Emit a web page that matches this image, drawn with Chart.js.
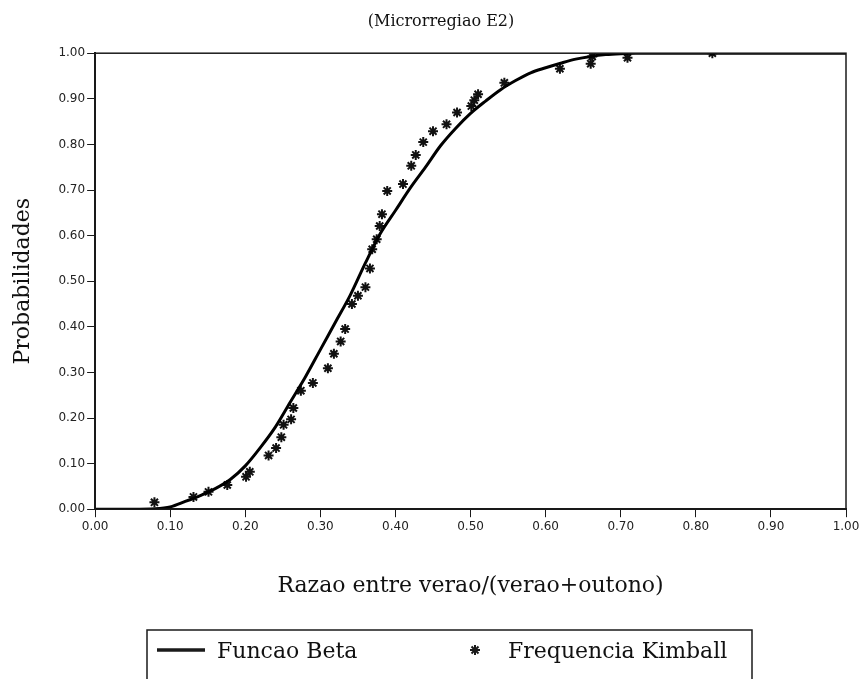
<!DOCTYPE html>
<html>
<head>
<meta charset="utf-8">
<title>Microrregiao E2</title>
<script src="https://cdn.jsdelivr.net/npm/chart.js@4.4.1/dist/chart.umd.min.js"></script>
<style>
  body { margin: 0; background: #fff; }
  #wrap { width: 863px; height: 679px; }
</style>
</head>
<body>
<div id="wrap"><canvas id="myChart" width="863" height="679"></canvas></div>
<script>
// curva da funcao beta
var betaX = [0.00, 0.05, 0.08, 0.10, 0.12, 0.14, 0.16, 0.18, 0.20, 0.22, 0.24, 0.26, 0.28, 0.30,
             0.32, 0.34, 0.36, 0.38, 0.40, 0.42, 0.44, 0.46, 0.48, 0.50, 0.52, 0.54, 0.56, 0.58,
             0.60, 0.62, 0.64, 0.66, 0.68, 0.70, 0.72, 0.80, 0.90, 1.00];
var betaY = [0.000, 0.000, 0.001, 0.005, 0.017, 0.030, 0.045, 0.065, 0.095, 0.135, 0.180, 0.235, 0.290, 0.350,
             0.410, 0.470, 0.540, 0.605, 0.655, 0.705, 0.750, 0.797, 0.835, 0.868, 0.895, 0.920, 0.940, 0.957,
             0.968, 0.978, 0.987, 0.993, 0.997, 0.999, 1.000, 1.000, 1.000, 1.000];

// frequencia de Kimball
var kimballX = [0.079, 0.131, 0.151, 0.176, 0.201, 0.206, 0.231, 0.241, 0.248, 0.251, 0.261, 0.264,
                0.274, 0.290, 0.310, 0.318, 0.327, 0.333, 0.342, 0.350, 0.360, 0.366, 0.369, 0.375,
                0.379, 0.382, 0.389, 0.410, 0.421, 0.427, 0.437, 0.450, 0.468, 0.482, 0.501, 0.505,
                0.510, 0.545, 0.619, 0.660, 0.662, 0.709, 0.822];
var kimballY = [0.015, 0.027, 0.038, 0.053, 0.071, 0.082, 0.118, 0.134, 0.158, 0.185, 0.197, 0.222,
                0.260, 0.277, 0.309, 0.341, 0.368, 0.395, 0.450, 0.468, 0.487, 0.528, 0.570, 0.592,
                0.621, 0.647, 0.698, 0.713, 0.753, 0.777, 0.805, 0.829, 0.844, 0.870, 0.884, 0.897,
                0.910, 0.935, 0.966, 0.977, 0.993, 0.990, 1.000];

var titulo = "(Microrregiao E2)";
var tituloX = "Razao entre verao/(verao+outono)";
var tituloY = "Probabilidades";
var nomes = ["Funcao Beta", "Frequencia Kimball"];

var serif = "'DejaVu Serif', 'Liberation Serif', serif";

function pares(xs, ys) {
    return xs.map(function(x, i) { return {x: x, y: ys[i]}; });
}

// moldura do grafico (topo e direita)
var moldura = {
    id: 'moldura',
    afterDatasetsDraw: function(chart) {
        var a = chart.chartArea;
        var ctx = chart.ctx;
        ctx.save();
        ctx.strokeStyle = '#1a1a1a';
        ctx.lineWidth = 1.5;
        ctx.strokeRect(a.left, a.top, a.right - a.left, a.bottom - a.top);
        ctx.restore();
    }
};

// legenda com caixa, desenhada a mao
var legenda = {
    id: 'legenda',
    afterDraw: function(chart) {
        var ctx = chart.ctx;
        var y = 650;
        ctx.save();
        ctx.strokeStyle = '#1a1a1a';
        ctx.lineWidth = 1.5;
        ctx.strokeRect(147, 630, 605, 60);

        ctx.lineWidth = 3.5;
        ctx.beginPath();
        ctx.moveTo(157, y);
        ctx.lineTo(205, y);
        ctx.stroke();

        ctx.lineWidth = 2;
        var r = 5, cx = 475;
        ctx.beginPath();
        ctx.moveTo(cx - r, y); ctx.lineTo(cx + r, y);
        ctx.moveTo(cx, y - r); ctx.lineTo(cx, y + r);
        ctx.moveTo(cx - r * 0.7, y - r * 0.7); ctx.lineTo(cx + r * 0.7, y + r * 0.7);
        ctx.moveTo(cx - r * 0.7, y + r * 0.7); ctx.lineTo(cx + r * 0.7, y - r * 0.7);
        ctx.stroke();

        ctx.fillStyle = '#111';
        ctx.font = "22px " + serif;
        ctx.textBaseline = 'middle';
        ctx.fillText(chart.data.datasets[0].label, 217, y + 2);
        ctx.fillText(chart.data.datasets[1].label, 508, y + 2);
        ctx.restore();
    }
};

var ctx = document.getElementById('myChart');

var myChart = new Chart(ctx, {
    type: 'scatter',
    data: {
        datasets: [{
            label: nomes[0],
            data: pares(betaX, betaY),
            showLine: true,
            borderColor: '#000',
            borderWidth: 3,
            pointRadius: 0,
            cubicInterpolationMode: 'monotone'
        }, {
            label: nomes[1],
            data: pares(kimballX, kimballY),
            showLine: false,
            pointStyle: 'star',
            pointRadius: 5,
            borderColor: '#111',
            backgroundColor: '#111',
            pointBorderWidth: 2
        }]
    },
    options: {
        responsive: false,
        animation: false,
        layout: {
            padding: {left: 36, right: 17, top: 0, bottom: 80}
        },
        plugins: {
            legend: {display: false},
            tooltip: {enabled: false},
            title: {
                display: true,
                text: titulo,
                color: '#111',
                font: {family: serif, size: 16, weight: 'normal'},
                padding: {top: 12, bottom: 22}
            }
        },
        scales: {
            x: {
                type: 'linear',
                min: 0,
                max: 1,
                border: {display: true, color: '#1a1a1a', width: 2},
                grid: {drawOnChartArea: false, drawTicks: true, tickLength: 8, color: '#1a1a1a'},
                ticks: {
                    stepSize: 0.1,
                    padding: 2,
                    color: '#222',
                    font: {family: 'DejaVu Sans', size: 12},
                    maxRotation: 0,
                    callback: function(v) { return v.toFixed(2); }
                },
                title: {
                    display: true,
                    text: tituloX,
                    color: '#111',
                    font: {family: serif, size: 22},
                    padding: {top: 37, bottom: 0}
                }
            },
            y: {
                type: 'linear',
                min: 0,
                max: 1,
                border: {display: true, color: '#1a1a1a', width: 2},
                grid: {drawOnChartArea: false, drawTicks: true, tickLength: 8, color: '#1a1a1a'},
                ticks: {
                    stepSize: 0.1,
                    padding: 2,
                    color: '#222',
                    font: {family: 'DejaVu Sans', size: 12},
                    callback: function(v) { return v.toFixed(2); }
                },
                title: {
                    display: true,
                    text: tituloY,
                    color: '#111',
                    font: {family: serif, size: 22},
                    padding: {top: -26, bottom: 20}
                }
            }
        }
    },
    plugins: [moldura, legenda]
});
</script>
</body>
</html>
